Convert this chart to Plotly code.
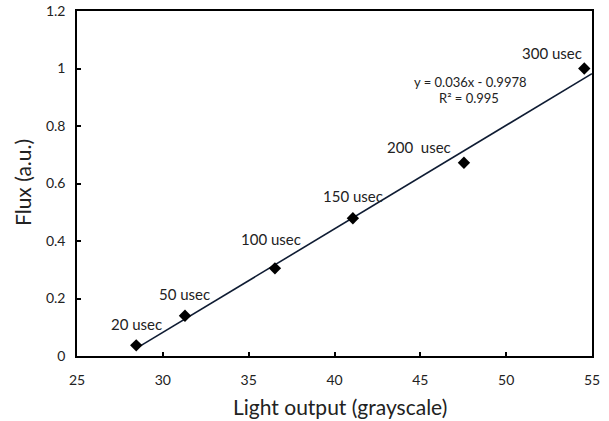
import plotly.graph_objects as go

# Data
light_output = [28.45, 31.29, 36.53, 41.07, 47.54, 54.55]
flux = [0.037, 0.140, 0.305, 0.479, 0.672, 1.0]
labels = ["20 usec", "50 usec", "100 usec", "150 usec", "200  usec", "300 usec"]
slope = 0.036
intercept = -0.9978
r_squared = 0.995
trend_x_end = 55
x_ticks = [25, 30, 35, 40, 45, 50, 55]
y_ticks = [0, 0.2, 0.4, 0.6, 0.8, 1.0, 1.2]

# label offsets in pixels (styling, not data)
label_dx = [0, 0, -4, 0, -45, -32]
label_dy = [21, 22, 29, 22, 16, 16]

FONT = "Lato"

fig = go.Figure()

tx = [min(light_output), trend_x_end]
ty = [slope * v + intercept for v in tx]
fig.add_trace(go.Scatter(x=tx, y=ty, mode="lines",
                         line=dict(color="#0f1c33", width=1.6),
                         hoverinfo="skip", showlegend=False))

fig.add_trace(go.Scatter(x=light_output, y=flux, mode="markers",
                         marker=dict(symbol="diamond", size=9.5, color="black"),
                         showlegend=False))

for x, y, t, dx, dy in zip(light_output, flux, labels, label_dx, label_dy):
    fig.add_annotation(x=x, y=y, text=t, showarrow=False, xshift=dx, yshift=dy,
                       xanchor="center", yanchor="middle",
                       font=dict(family=FONT, size=15, color="#222"))

fig.add_annotation(x=47.95, y=0.954, xanchor="center", yanchor="middle",
                   text=f"y = {slope}x - {abs(intercept)}", showarrow=False,
                   font=dict(family=FONT, size=13, color="#222"))
fig.add_annotation(x=47.83, y=0.898, xanchor="center", yanchor="middle",
                   text=f"R² = {r_squared}", showarrow=False,
                   font=dict(family=FONT, size=13, color="#222"))

# axis titles
fig.add_annotation(xref="paper", yref="paper", x=0.511, y=-0.147,
                   xanchor="center", yanchor="middle",
                   text="Light output (grayscale)", showarrow=False,
                   font=dict(family=FONT, size=21, color="#222"))
fig.add_annotation(xref="paper", yref="paper", x=-0.107, y=0.504,
                   xanchor="center", yanchor="middle",
                   text="Flux (a.u.)", showarrow=False, textangle=-90,
                   font=dict(family=FONT, size=21, color="#222"))

fig.update_layout(
    width=609, height=421,
    margin=dict(l=77, r=17, t=11, b=65, autoexpand=False),
    plot_bgcolor="white", paper_bgcolor="white",
    font=dict(family=FONT, color="#222"),
)
fig.update_xaxes(range=[25, 55], tickvals=x_ticks, showgrid=False, zeroline=False,
                 showline=True, linecolor="black", linewidth=1.5, mirror=True,
                 ticks="inside", ticklen=4, tickcolor="black", tickwidth=1.5,
                 tickfont=dict(size=14, family=FONT), ticklabelstandoff=10,
                 automargin=False)
fig.update_yaxes(range=[0, 1.2], tickvals=y_ticks, showgrid=False, zeroline=False,
                 showline=True, linecolor="black", linewidth=1.5, mirror=True,
                 ticks="inside", ticklen=4, tickcolor="black", tickwidth=1.5,
                 tickfont=dict(size=14, family=FONT), ticklabelstandoff=7,
                 automargin=False)

fig.write_html("out.html", config={"displayModeBar": False},
               post_script="document.body.style.margin='0';")
